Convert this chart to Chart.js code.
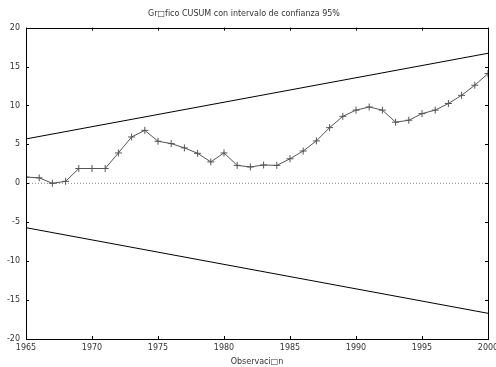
<!DOCTYPE html>
<html lang="es">
<head>
  <meta charset="UTF-8" />
  <title>CUSUM</title>
  <script src="https://cdn.jsdelivr.net/npm/chart.js"></script>
  <style>
    html, body { margin: 0; padding: 0; background: #ffffff; }
    #wrap { width: 496px; height: 367px; }
  </style>
</head>
<body>
  <div id="wrap"><canvas id="cusum" width="496" height="367"></canvas></div>

  <script>
    // Datos
    const years = [1965, 1966, 1967, 1968, 1969, 1970, 1971, 1972, 1973, 1974, 1975, 1976,
                   1977, 1978, 1979, 1980, 1981, 1982, 1983, 1984, 1985, 1986, 1987, 1988,
                   1989, 1990, 1991, 1992, 1993, 1994, 1995, 1996, 1997, 1998, 1999, 2000];
    const cusum = [0.8, 0.7, 0.0, 0.25, 1.9, 1.9, 1.9, 3.9, 5.95, 6.8, 5.4, 5.1,
                   4.55, 3.85, 2.75, 3.9, 2.3, 2.1, 2.35, 2.3, 3.15, 4.15, 5.45, 7.15,
                   8.6, 9.4, 9.8, 9.4, 7.85, 8.1, 8.95, 9.4, 10.25, 11.3, 12.6, 14.1];
    const boundYears = [1965, 2000];
    const upperBound = [5.7, 16.7];
    const lowerBound = [-5.7, -16.7];
    const zeroLine = [0, 0];

    const FONT = { family: "'DejaVu Sans', sans-serif", size: 8, weight: 'normal' };
    const TEXT = '#333333';

    const toPoints = (xs, ys) => xs.map((x, i) => ({ x: x, y: ys[i] }));

    // marco y marcas hacia dentro, estilo gnuplot
    const frameTicks = {
      id: 'frameTicks',
      afterDatasetsDraw(chart) {
        const { ctx, chartArea: a, scales } = chart;
        const len = 3;
        ctx.save();
        ctx.strokeStyle = '#000';
        ctx.lineWidth = 1;
        ctx.beginPath();
        scales.x.ticks.forEach(t => {
          const px = Math.round(scales.x.getPixelForValue(t.value)) + 0.5;
          ctx.moveTo(px, a.bottom); ctx.lineTo(px, a.bottom - len);
          ctx.moveTo(px, a.top); ctx.lineTo(px, a.top + len);
        });
        scales.y.ticks.forEach(t => {
          const py = Math.round(scales.y.getPixelForValue(t.value)) + 0.5;
          ctx.moveTo(a.left, py); ctx.lineTo(a.left + len, py);
          ctx.moveTo(a.right, py); ctx.lineTo(a.right - len, py);
        });
        ctx.stroke();
        ctx.strokeRect(Math.round(a.left) + 0.5, Math.round(a.top) + 0.5,
                       Math.round(a.right - a.left), Math.round(a.bottom - a.top));
        ctx.restore();
      }
    };

    new Chart(document.getElementById('cusum'), {
      type: 'line',
      data: {
        datasets: [
          {
            data: toPoints(years, cusum),
            borderColor: '#555555',
            borderWidth: 1,
            pointStyle: 'cross',
            pointRadius: 3.5,
            pointBorderColor: '#555555',
            pointBorderWidth: 1,
            tension: 0
          },
          {
            data: toPoints(boundYears, upperBound),
            borderColor: '#000000',
            borderWidth: 1,
            pointRadius: 0
          },
          {
            data: toPoints(boundYears, lowerBound),
            borderColor: '#000000',
            borderWidth: 1,
            pointRadius: 0
          },
          {
            data: toPoints(boundYears, zeroLine),
            borderColor: '#888888',
            borderWidth: 1,
            borderDash: [1, 2],
            pointRadius: 0
          }
        ]
      },
      options: {
        responsive: false,
        animation: false,
        layout: { padding: { left: 0, right: 8, top: 0, bottom: 0 } },
        plugins: {
          legend: { display: false },
          tooltip: { enabled: false },
          title: {
            display: true,
            text: 'Gr\u25A1fico CUSUM con intervalo de confianza 95%',
            color: TEXT,
            font: FONT,
            padding: { top: 9, bottom: 9 }
          }
        },
        scales: {
          x: {
            type: 'linear',
            min: 1965,
            max: 2000,
            grid: { display: false, drawTicks: false, tickLength: 0 },
            border: { display: false },
            ticks: {
              stepSize: 5,
              color: TEXT,
              font: FONT,
              padding: 4,
              maxRotation: 0,
              autoSkip: false,
              callback: v => String(v)
            },
            title: {
              display: true,
              text: 'Observaci\u25A1n',
              color: TEXT,
              font: FONT,
              padding: { top: 4, bottom: 0 }
            },
            afterFit(scale) {
              scale.height = 28;
              scale.paddingLeft = 0;
              scale.paddingRight = 0;
            }
          },
          y: {
            min: -20,
            max: 20,
            grid: { display: false, drawTicks: false, tickLength: 0 },
            border: { display: false },
            ticks: {
              stepSize: 5,
              color: TEXT,
              font: FONT,
              padding: 6
            },
            afterFit(scale) {
              scale.width = 26;
              scale.paddingTop = 0;
              scale.paddingBottom = 0;
            }
          }
        }
      },
      plugins: [frameTicks]
    });
  </script>
</body>
</html>
